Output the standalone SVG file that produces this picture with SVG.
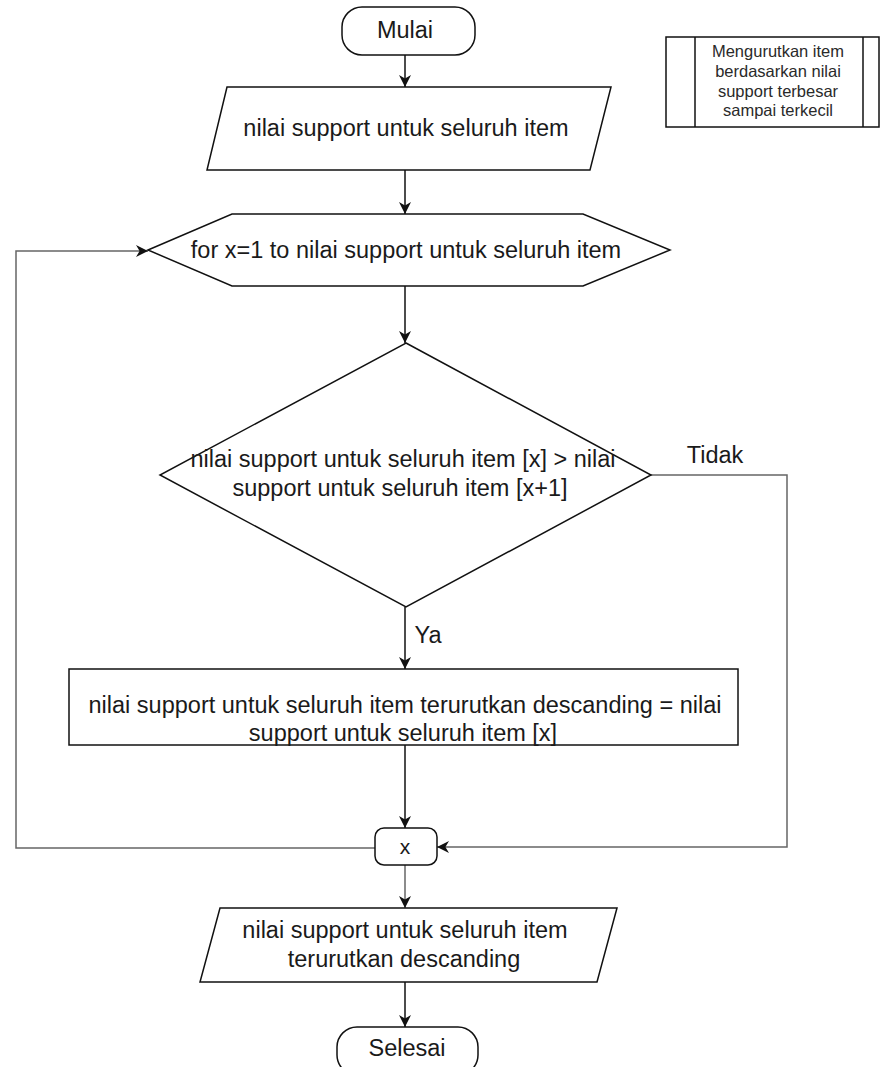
<svg xmlns="http://www.w3.org/2000/svg" width="880" height="1067" viewBox="0 0 880 1067">
<defs>
<marker id="arr" markerUnits="userSpaceOnUse" markerWidth="12" markerHeight="12" refX="10" refY="5" orient="auto" viewBox="0 0 10 10">
<path d="M0,0 L10,5 L0,10 L3,5 z" fill="#111"/>
</marker>
<style>
.s{fill:#fff;stroke:#111;stroke-width:1.5}
.t{font-family:"Liberation Sans",Arial,sans-serif;font-size:23.5px;fill:#1a1a1a;text-anchor:middle}
.n{font-family:"Liberation Sans",Arial,sans-serif;font-size:16.5px;fill:#2a2a2a;text-anchor:middle}
.c{fill:none;stroke:#111;stroke-width:1.5}
.g{fill:none;stroke:#666;stroke-width:1.5}
</style>
</defs>
<rect width="880" height="1067" fill="#fff"/>
<g id="connectors">
<path class="c" d="M405,55 V87" marker-end="url(#arr)"/>
<path class="c" d="M405,170 V214" marker-end="url(#arr)"/>
<path class="g" d="M375,848 H16 V251 H148" marker-end="url(#arr)"/>
<path class="c" d="M405,286 V343" marker-end="url(#arr)"/>
<path class="c" d="M405,607 V669" marker-end="url(#arr)"/>
<path class="g" d="M651,475 H787 V847 H437" marker-end="url(#arr)"/>
<path class="c" d="M405,745 V828" marker-end="url(#arr)"/>
<path class="g" d="M405,865 V908" marker-end="url(#arr)"/>
<path class="c" d="M405,982 V1027" marker-end="url(#arr)"/>
<text class="t" x="428" y="643">Ya</text>
<text class="t" x="715" y="463">Tidak</text>
</g>
<g id="note">
<rect class="s" x="666" y="37" width="213" height="90"/>
<line class="c" x1="695" y1="37" x2="695" y2="127"/>
<line class="c" x1="863" y1="37" x2="863" y2="127"/>
<text class="n" x="778" y="57">Mengurutkan item</text>
<text class="n" x="778" y="77">berdasarkan nilai</text>
<text class="n" x="778" y="97">support terbesar</text>
<text class="n" x="778" y="116">sampai terkecil</text>
</g>
<g id="mulai">
<rect class="s" x="342" y="7" width="133" height="48" rx="20" ry="20"/>
<text class="t" x="405" y="38">Mulai</text>
</g>
<g id="input1">
<polygon class="s" points="227,87 611,87 590,170 207,170"/>
<text class="t" x="406" y="136">nilai support untuk seluruh item</text>
</g>
<g id="loop">
<polygon class="s" points="148,250 232,214 583,214 670,250 583,286 232,286"/>
<text class="t" x="406" y="258">for x=1 to nilai support untuk seluruh item</text>
</g>
<g id="decision">
<polygon class="s" points="406,343 651,475 406,607 160,475"/>
<text class="t" x="403" y="467">nilai support untuk seluruh item [x] &gt; nilai</text>
<text class="t" x="400" y="496">support untuk seluruh item [x+1]</text>
</g>
<g id="process">
<rect class="s" x="69" y="669" width="669" height="76"/>
<text class="t" x="405" y="713">nilai support untuk seluruh item terurutkan descanding = nilai</text>
<text class="t" x="403" y="741">support untuk seluruh item [x]</text>
</g>
<g id="connectorX">
<rect class="s" x="375" y="828" width="62" height="37" rx="9" ry="9"/>
<text class="t" x="405" y="854" style="font-size:21px">x</text>
</g>
<g id="output">
<polygon class="s" points="220,908 617,908 597,982 200,982"/>
<text class="t" x="405" y="938">nilai support untuk seluruh item</text>
<text class="t" x="404" y="967">terurutkan descanding</text>
</g>
<g id="selesai">
<rect class="s" x="337" y="1027" width="141" height="48" rx="20" ry="20"/>
<text class="t" x="407" y="1056">Selesai</text>
</g>
</svg>
